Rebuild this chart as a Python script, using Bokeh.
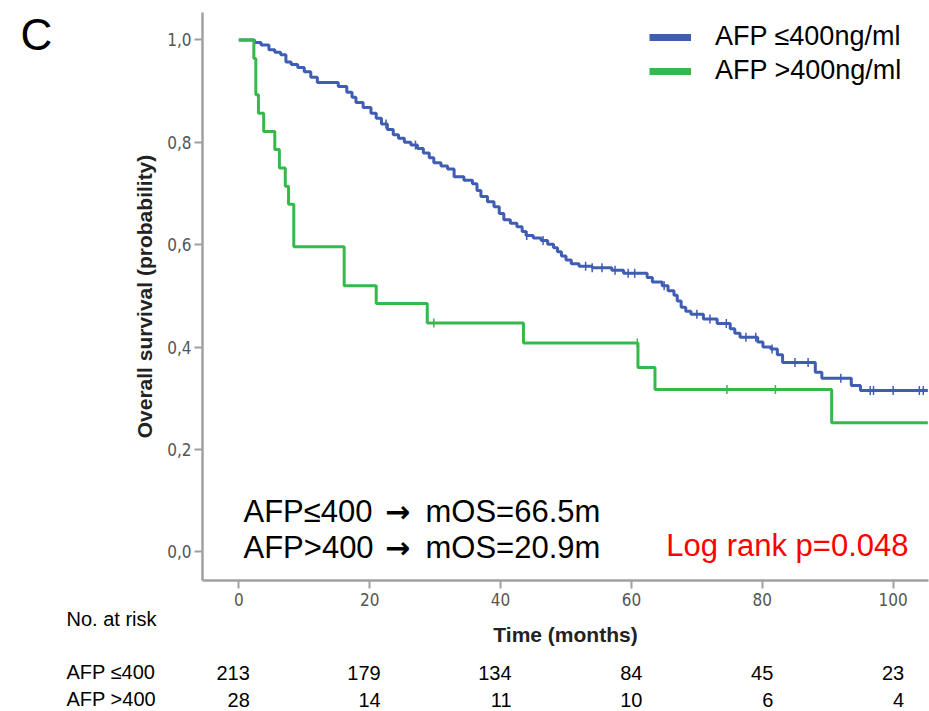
import numpy as np
from bokeh.plotting import figure
from bokeh.models import (Range1d, FixedTicker, CustomJSTickFormatter, Legend, LegendItem,
                          Label, LabelSet, ColumnDataSource, LinearAxis)
from bokeh.core.properties import value
from bokeh.embed import file_html
from bokeh.resources import INLINE

# ---------------- data ----------------
blue_t = [0.0, 2.4, 3.4, 4.6, 5.5, 6.4, 7.2, 8.0, 9.0, 10.0, 11.0, 12.0, 15.2, 16.5, 17.3, 17.9,
          19.0, 20.2, 21.0, 21.8, 22.7, 23.6, 24.4, 25.3, 26.3, 27.3, 28.2, 29.1, 29.8, 30.9,
          31.9, 32.9, 34.4, 35.7, 36.4, 37.0, 38.0, 39.0, 39.8, 40.5, 41.5, 42.5, 43.3, 43.9,
          45.0, 46.2, 47.2, 48.1, 48.7, 49.3, 50.0, 50.8, 52.0, 54.0, 57.0, 58.8, 62.4, 63.2,
          64.7, 65.6, 66.5, 67.0, 67.6, 68.3, 69.1, 71.0, 73.1, 75.1, 75.8, 76.6, 79.3, 80.1,
          81.3, 82.3, 83.1, 88.1, 89.1, 93.6, 95.0, 105.3]
blue_s = [1.000, 0.995, 0.990, 0.981, 0.976, 0.971, 0.957, 0.952, 0.946, 0.938, 0.927, 0.917,
          0.909, 0.898, 0.888, 0.878, 0.868, 0.857, 0.847, 0.836, 0.825, 0.815, 0.808, 0.800,
          0.795, 0.788, 0.779, 0.770, 0.760, 0.754, 0.748, 0.733, 0.726, 0.719, 0.706, 0.694,
          0.684, 0.674, 0.661, 0.649, 0.642, 0.635, 0.626, 0.618, 0.613, 0.608, 0.601, 0.594,
          0.586, 0.578, 0.570, 0.563, 0.558, 0.555, 0.550, 0.544, 0.536, 0.527, 0.520, 0.510,
          0.501, 0.490, 0.478, 0.470, 0.464, 0.455, 0.446, 0.436, 0.427, 0.419, 0.410, 0.400,
          0.396, 0.385, 0.370, 0.351, 0.339, 0.325, 0.315, 0.315]
blue_censor_t = [22.5, 27.0, 44.0, 46.5, 53.0, 54.0, 55.5, 57.5, 59.5, 60.5, 65.0, 70.0, 72.0,
                 74.5, 77.5, 79.0, 81.5, 85.0, 87.0, 92.0, 96.5, 97.0, 100.0, 104.0, 104.6]

green_t = [0.0, 2.3, 2.6, 3.0, 3.8, 5.5, 6.2, 7.1, 7.6, 8.4, 16.1, 21.0, 28.8, 43.5, 61.0,
           63.6, 90.6, 105.3]
green_s = [1.000, 0.964, 0.893, 0.857, 0.821, 0.786, 0.750, 0.714, 0.679, 0.596, 0.520,
           0.485, 0.447, 0.408, 0.360, 0.317, 0.252, 0.252]
green_censor_t = [29.8, 60.9, 74.6, 82.0]

x_ticks = [0, 20, 40, 60, 80, 100]
y_ticks = [0.0, 0.2, 0.4, 0.6, 0.8, 1.0]
risk_times = [0, 20, 40, 60, 80, 100]
risk_low = [213, 179, 134, 84, 45, 23]
risk_high = [28, 14, 11, 10, 6, 4]

BLUE = "#3f5db3"
GREEN = "#36b94a"
AXIS = "#a0a0a0"
TICKLBL = "#555555"
SANS = "Liberation Sans"
NARROW = "Liberation Sans Narrow, DejaVu Sans Condensed, sans-serif"

W, H = 929, 711
# axis box (visible plotting region) in pixels and its data extent
BOX_L, BOX_R, BOX_T, BOX_B = 202, 928, 12, 580
X_LO, X_HI = -5.55, 105.4
Y_LO, Y_HI = -0.0561, 1.0537
ppx = (BOX_R - BOX_L) / (X_HI - X_LO)
ppy = (BOX_B - BOX_T) / (Y_HI - Y_LO)


def step_value(ts, ss, t):
    i = np.searchsorted(np.array(ts), t, side="right") - 1
    return float(ss[i])


# ---------------- figure: frame covers the whole canvas ----------------
p = figure(width=W, height=H, output_backend="svg", toolbar_location=None,
           x_axis_location=None, y_axis_location=None,
           x_range=Range1d(X_LO - BOX_L / ppx, X_HI + (W - BOX_R) / ppx),
           y_range=Range1d(Y_LO - (H - BOX_B) / ppy, Y_HI + BOX_T / ppy),
           min_border=0)
p.outline_line_color = None
p.grid.visible = False
p.background_fill_color = "white"

xaxis = LinearAxis(fixed_location=Y_LO, bounds=(X_LO, X_HI), ticker=FixedTicker(ticks=x_ticks),
                   axis_label="Time (months)")
yaxis = LinearAxis(fixed_location=X_LO, bounds=(Y_LO, Y_HI), ticker=FixedTicker(ticks=y_ticks),
                   axis_label="Overall survival (probability)",
                   formatter=CustomJSTickFormatter(code="return tick.toFixed(1).replace('.', ',');"))
for ax in (xaxis, yaxis):
    ax.axis_line_color = AXIS
    ax.axis_line_width = 2.5
    ax.major_tick_line_color = AXIS
    ax.major_tick_line_width = 2
    ax.major_tick_out = 8
    ax.major_tick_in = 0
    ax.minor_tick_line_color = None
    ax.major_label_text_color = TICKLBL
    ax.major_label_text_font = NARROW
    ax.major_label_text_font_size = "17px"
    ax.axis_label_text_font = SANS
    ax.axis_label_text_font_style = "bold"
    ax.axis_label_text_font_size = "21px"
    ax.axis_label_text_color = "#222222"
xaxis.major_label_standoff = 4
yaxis.major_label_standoff = 3
xaxis.axis_label_standoff = 14
yaxis.axis_label_standoff = 8
p.add_layout(xaxis, "below")
p.add_layout(yaxis, "left")

# curves
p.step(blue_t, blue_s, mode="after", line_color=BLUE, line_width=3)
p.step(green_t, green_s, mode="after", line_color=GREEN, line_width=3)

bc_y = [step_value(blue_t, blue_s, t) for t in blue_censor_t]
gc_y = [step_value(green_t, green_s, t) for t in green_censor_t]
p.scatter(blue_censor_t, bc_y, marker="dash", angle=np.pi / 2, size=9,
          line_color=BLUE, line_width=1.5)
p.scatter(green_censor_t, gc_y, marker="dash", angle=np.pi / 2, size=9,
          line_color=GREEN, line_width=1.5)

# legend (single-point proxy renderers with thick lines)
lb = p.line(blue_t[:1], blue_s[:1], line_color=BLUE, line_width=7)
lg = p.line(green_t[:1], green_s[:1], line_color=GREEN, line_width=7)
legend = Legend(items=[LegendItem(label="AFP \u2264400ng/ml", renderers=[lb]),
                       LegendItem(label="AFP >400ng/ml", renderers=[lg])],
                location=(649, 625), orientation="vertical",
                border_line_color=None, background_fill_alpha=0,
                label_text_font=SANS, label_text_font_size="27px", label_text_color="black",
                glyph_width=42, glyph_height=20, label_height=20,
                label_standoff=24, spacing=3, padding=0, margin=0)
p.add_layout(legend)


def add_label(x, y, text, size, color="black", align="left", font=SANS, style="normal"):
    p.add_layout(Label(x=x, y=y, x_units="screen", y_units="screen", text=text,
                       text_font=font, text_font_size=size, text_color=color,
                       text_align=align, text_baseline="alphabetic",
                       text_font_style=style))


# median survival notes
add_label(243, 200, "AFP\u2264400", "31px")
add_label(397, 200, "\u2192", "30px", align="center", font="DejaVu Sans", style="bold")
add_label(425, 200, "mOS=66.5m", "31px")
add_label(243, 164, "AFP>400", "31px")
add_label(397, 164, "\u2192", "30px", align="center", font="DejaVu Sans", style="bold")
add_label(425, 164, "mOS=20.9m", "31px")
add_label(908, 166, "Log rank p=0.048", "31px", color="#ff0000", align="right")
add_label(20, 677, "C", "44px")

# number at risk table
add_label(66, 92.3, "No. at risk", "20px")
add_label(66, 39.7, "AFP \u2264400", "20px")
add_label(66, 12.3, "AFP >400", "20px")

src_low = ColumnDataSource(dict(x=risk_times, text=[str(v) for v in risk_low]))
src_high = ColumnDataSource(dict(x=risk_times, text=[str(v) for v in risk_high]))
for src, yy in ((src_low, 31.7), (src_high, 4.3)):
    p.add_layout(LabelSet(x="x", y=yy, text="text", source=src, y_units="screen",
                          x_offset=11, text_align="right", text_baseline="alphabetic",
                          text_font=value(SANS), text_font_size=value("20px"),
                          text_color="black"))

open("out.html", "w").write(file_html(p, INLINE))
